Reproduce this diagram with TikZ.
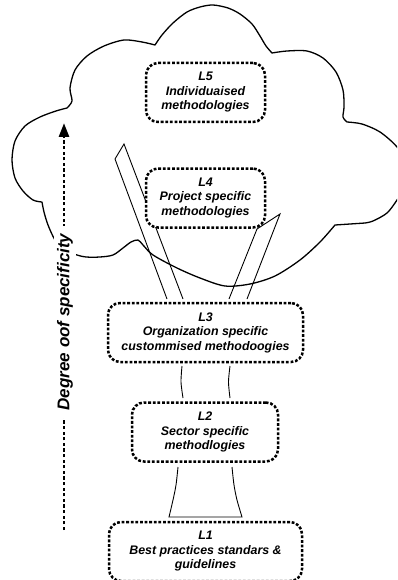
\documentclass[tikz,border=0pt]{standalone}
\usepackage{fontspec}
\setmainfont{Liberation Sans}
\usetikzlibrary{arrows.meta}

\begin{document}
\begin{tikzpicture}[x=1pt, y=-1pt,
  lbox/.style={draw, fill=white, rounded corners=12pt, line width=2.5pt,
    dash pattern=on 2.8pt off 1.8pt, align=center, minimum height=59pt,
    inner sep=2pt, font=\bfseries\itshape\fontsize{12.4}{14.5}\selectfont},
  strip/.style={line width=0.9pt},
  cloud/.style={line width=1.3pt, line join=round}]
\useasboundingbox (0,0) rectangle (397,580);
\clip (0,0) rectangle (397,580);

% cloud
\draw[cloud] plot[smooth] coordinates {(42,202) (33,200) (23,191) (15,178) (12,160) (15,141) (25,126) (40,117) (56,111) (67,108)}
  -- plot[smooth] coordinates {(67,108) (72,101) (70,88) (75,70) (87,56) (104,46) (124,40) (142,42) (155,45)}
  -- plot[smooth] coordinates {(155,45) (162,35) (173,23) (187,12) (200,7) (213,5) (228,8) (240,14) (252,24) (260,36) (266,46) (272,53)}
  -- plot[smooth] coordinates {(272,53) (287,51) (307,51) (323,58) (336,72) (343,90) (344,107) (343,117) (347,122)}
  -- plot[smooth] coordinates {(347,122) (362,124) (380,132) (397,147) (407,165) (406,185) (397,200) (387,213) (373,221) (365,223)}
  -- plot[smooth] coordinates {(335,225) (320,242) (300,260) (275,276) (250,284) (225,286) (200,278) (177,268) (153,255) (143,245) (138,240) (131,242) (123,248) (113,255) (100,257) (86,257) (77,255) (64,250) (55,240) (48,225) (44,212) (42,202)}
  -- cycle;

% strips up from L3
\coordinate (P1) at (167,299);
\coordinate (P2) at (115,159);
\coordinate (P3) at (124,144);
\coordinate (P4) at (183,299);
\coordinate (Q1) at (229,299);
\coordinate (Q2) at (257,229);
\coordinate (Q3) at (280,214);
\coordinate (Q4) at (247,299);
\draw[strip] (P1) -- (P2) -- (P3) -- (P4);
\draw[strip] (Q1) -- (Q2) -- (Q3) -- (Q4);

% stems between L3, L2 and L1
\draw[strip] plot[smooth] coordinates {(182,366) (181,382) (183,398)};
\draw[strip] plot[smooth] coordinates {(230,366) (228.5,382) (230,398)};
\draw[strip] plot[smooth] coordinates {(178,467) (176,485) (173,500) (169,517)}
  -- plot[smooth] coordinates {(242,517) (237,500) (234,485) (232,467)};

% levels
\node[lbox, minimum width=119pt] (L5) at (205.5,92.5) {L5\\Individuaised\\methodologies};
\node[lbox, minimum width=119pt] (L4) at (205.5,198) {L4\\Project specific\\methodologies};
\node[lbox, minimum width=195pt] (L3) at (205.5,332.5) {L3\\Organization specific\\custommised methodoogies};
\node[lbox, minimum width=146pt] (L2) at (205,432) {L2\\Sector specific\\methodlogies};
\node[lbox, minimum width=193pt] (L1) at (205.5,551.5) {L1\\Best practices standars \&\\guidelines};

% axis
\coordinate (A0) at (64,530);
\coordinate (A1) at (64,123);
\draw[line width=2.8pt, dash pattern=on 3.3pt off 2.3pt, -{Triangle[length=14pt,width=10pt]}] (A0) -- (A1);
\node[fill=white, rotate=90, inner xsep=8pt, inner ysep=3pt,
  font=\bfseries\itshape\fontsize{17}{20}\selectfont] (deg) at (65,322) {Degree oof specificity};
\end{tikzpicture}
\end{document}
